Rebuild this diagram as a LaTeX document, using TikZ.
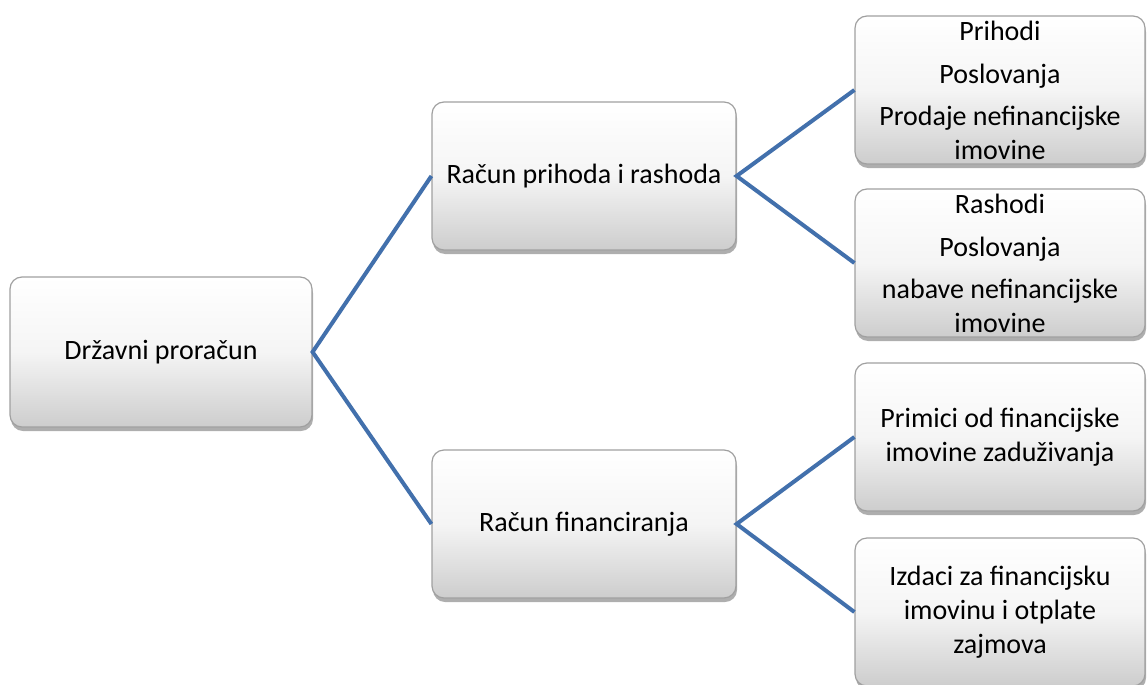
\documentclass[tikz,border=0pt]{standalone}
\usepackage{fontspec}
\setmainfont{Carlito}
\usetikzlibrary{shadows}
\definecolor{linkblue}{RGB}{66,112,172}
\definecolor{boxedge}{RGB}{160,160,160}
\definecolor{boxbottom}{RGB}{205,205,205}
\tikzset{
  box/.style={rectangle, rounded corners=12pt, draw=boxedge, line width=1.2pt,
    top color=white, bottom color=boxbottom, middle color=white!96!black,
    drop shadow={shadow xshift=1pt, shadow yshift=-4pt, opacity=0.45, fill=black!70},
    inner sep=0pt, align=center, font=\fontsize{28}{34}\selectfont},
  bigbox/.style={box, minimum width=302pt, minimum height=150pt},
  midbox/.style={box, minimum width=304pt, minimum height=148pt},
  leafbox/.style={box, minimum width=290pt, minimum height=148pt},
  link/.style={draw=linkblue, line width=4pt}
}
\begin{document}
\begin{tikzpicture}[x=1pt,y=-1pt]
\useasboundingbox (0,0) rectangle (1148,685);
\node[bigbox] (root) at (161,352) {Državni proračun};
\node[midbox] (rpr) at (584,176) {Račun prihoda i rashoda};
\node[midbox] (rf) at (584,524) {Račun financiranja};
\node[leafbox] (d1) at (1000,90) {Prihodi\\[9pt]Poslovanja\\[8pt]Prodaje nefinancijske\\imovine};
\node[leafbox] (d2) at (1000,263) {Rashodi\\[9pt]Poslovanja\\[8pt]nabave nefinancijske\\imovine};
\node[leafbox] (d3) at (1000,437) {Primici od financijske\\imovine zaduživanja};
\node[leafbox] (d4) at (1000,612) {Izdaci za financijsku\\imovinu i otplate\\zajmova};
\draw[link] (rpr.west) -- (root.east) -- (rf.west);
\draw[link] (d1.west) -- (rpr.east) -- (d2.west);
\draw[link] (d3.west) -- (rf.east) -- (d4.west);
\end{tikzpicture}
\end{document}
